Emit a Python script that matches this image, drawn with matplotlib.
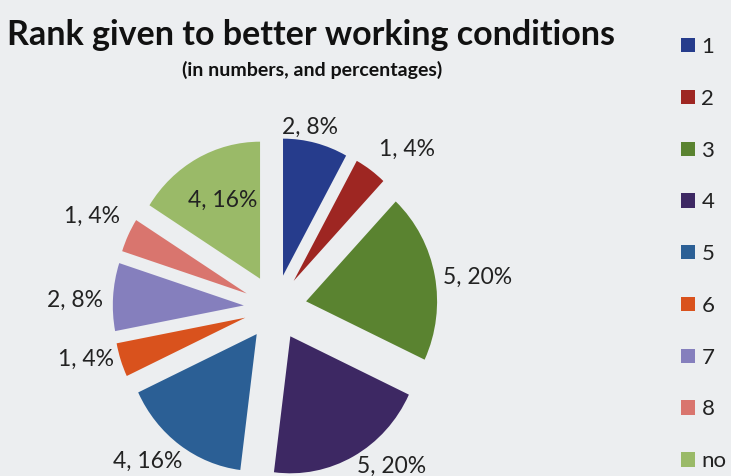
import matplotlib.pyplot as plt
import numpy as np

plt.rcParams['font.family'] = ['Lato', 'DejaVu Sans']

# Survey answers: rank given to better working conditions
categories = ['1', '2', '3', '4', '5', '6', '7', '8', 'no']
counts = [2, 1, 5, 5, 4, 1, 2, 1, 4]

colors = ['#263c8c', '#9e2622', '#5a8330', '#3d2863', '#2b5f95',
          '#d9521d', '#857fbd', '#d9756e', '#9aba68']
# label placement: distance from centre (radius units) and clockwise shift (deg)
label_radius = [1.34, 1.53, 1.56, 1.46, 1.49, 1.49, 1.53, 1.55, 0.88]
label_shift = [-3.0, 5.2, 2.6, -8.6, 4.9, 3.3, -1.6, 0.3, 1.5]

W, H = 731, 476
bg = '#eceef0'
fig = plt.figure(figsize=(W / 100, H / 100), dpi=100, facecolor=bg)
ax = fig.add_axes([0, 0, 1, 1])
ax.set_facecolor(bg)

total = sum(counts)
wedges, _ = ax.pie(counts, colors=colors, startangle=90, counterclock=False,
                   explode=[0.24] * len(counts), radius=1.0,
                   wedgeprops=dict(linewidth=0))

# pie centre and radius in pixels (slightly taller than wide)
cx, cy = 275.2, H - 307.5
rx, ry = 131.0, 137.0
ax.set_aspect('auto')
ax.set_xlim(-cx / rx, (W - cx) / rx)
ax.set_ylim(-cy / ry, (H - cy) / ry)
ax.axis('off')

for w, n, r, s in zip(wedges, counts, label_radius, label_shift):
    ang = np.deg2rad((w.theta1 + w.theta2) / 2 - s)
    ax.text(r * np.cos(ang), r * np.sin(ang), f'{n}, {round(100 * n / total)}%',
            ha='center', va='center', fontsize=16.5, color='#222222')

fig.text(311 / W, 1 - 45 / H, 'Rank given to better working conditions',
         ha='center', va='baseline', fontsize=24.5, fontweight='bold', color='#111111')
fig.text(312 / W, 1 - 76 / H, '(in numbers, and percentages)',
         ha='center', va='baseline', fontsize=14, fontweight='bold', color='#111111')

fig.legend(wedges, categories, loc='upper left', bbox_to_anchor=(681 / W, 1 - 37 / H),
           frameon=False, fontsize=16, handlelength=0.62, handleheight=0.62,
           handletextpad=0.3, labelspacing=1.43, borderpad=0, borderaxespad=0,
           labelcolor='#222222')

fig.savefig('out.png', dpi=100, facecolor=bg)
